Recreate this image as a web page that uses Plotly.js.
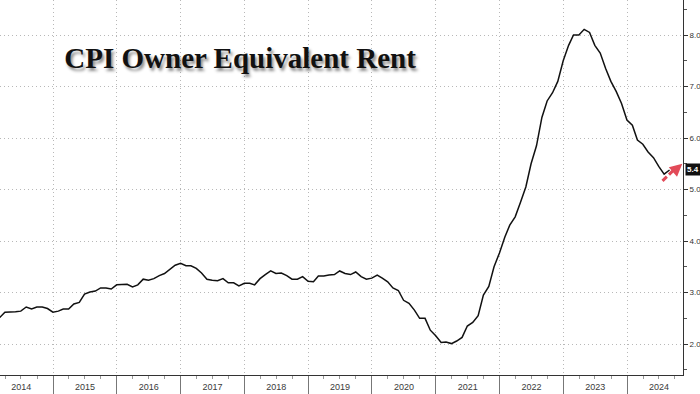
<!DOCTYPE html>
<html>
<head>
<meta charset="utf-8">
<script src="https://cdn.plot.ly/plotly-3.0.1.min.js"></script>
<style>
  html, body { margin: 0; padding: 0; background: #fff; }
  #chart { width: 700px; height: 394px; }
</style>
</head>
<body>
<div id="chart"></div>
<script>
// Month-end observation dates
const dates = [
  '2014-01-31','2014-02-28','2014-03-31','2014-04-30','2014-05-31','2014-06-30','2014-07-31','2014-08-31','2014-09-30','2014-10-31','2014-11-30','2014-12-31',
  '2015-01-31','2015-02-28','2015-03-31','2015-04-30','2015-05-31','2015-06-30','2015-07-31','2015-08-31','2015-09-30','2015-10-31','2015-11-30','2015-12-31',
  '2016-01-31','2016-02-29','2016-03-31','2016-04-30','2016-05-31','2016-06-30','2016-07-31','2016-08-31','2016-09-30','2016-10-31','2016-11-30','2016-12-31',
  '2017-01-31','2017-02-28','2017-03-31','2017-04-30','2017-05-31','2017-06-30','2017-07-31','2017-08-31','2017-09-30','2017-10-31','2017-11-30','2017-12-31',
  '2018-01-31','2018-02-28','2018-03-31','2018-04-30','2018-05-31','2018-06-30','2018-07-31','2018-08-31','2018-09-30','2018-10-31','2018-11-30','2018-12-31',
  '2019-01-31','2019-02-28','2019-03-31','2019-04-30','2019-05-31','2019-06-30','2019-07-31','2019-08-31','2019-09-30','2019-10-31','2019-11-30','2019-12-31',
  '2020-01-31','2020-02-29','2020-03-31','2020-04-30','2020-05-31','2020-06-30','2020-07-31','2020-08-31','2020-09-30','2020-10-31','2020-11-30','2020-12-31',
  '2021-01-31','2021-02-28','2021-03-31','2021-04-30','2021-05-31','2021-06-30','2021-07-31','2021-08-31','2021-09-30','2021-10-31','2021-11-30','2021-12-31',
  '2022-01-31','2022-02-28','2022-03-31','2022-04-30','2022-05-31','2022-06-30','2022-07-31','2022-08-31','2022-09-30','2022-10-31','2022-11-30','2022-12-31',
  '2023-01-31','2023-02-28','2023-03-31','2023-04-30','2023-05-31','2023-06-30','2023-07-31','2023-08-31','2023-09-30','2023-10-31','2023-11-30','2023-12-31',
  '2024-01-31','2024-02-29','2024-03-31','2024-04-30','2024-05-31','2024-06-30','2024-07-31','2024-08-31'
];

// CPI Owners' Equivalent Rent, YoY %
const oerYoY = [
  2.50, 2.51, 2.62, 2.62, 2.63, 2.64, 2.72, 2.68, 2.72, 2.72, 2.69, 2.62,
  2.64, 2.68, 2.68, 2.78, 2.81, 2.97, 3.01, 3.03, 3.09, 3.09, 3.07, 3.15,
  3.16, 3.16, 3.11, 3.15, 3.26, 3.24, 3.27, 3.33, 3.37, 3.46, 3.53, 3.57,
  3.52, 3.52, 3.47, 3.38, 3.26, 3.24, 3.23, 3.27, 3.19, 3.19, 3.13, 3.18,
  3.18, 3.15, 3.27, 3.35, 3.42, 3.37, 3.38, 3.33, 3.26, 3.26, 3.31, 3.22,
  3.21, 3.32, 3.32, 3.34, 3.35, 3.42, 3.37, 3.35, 3.40, 3.31, 3.26, 3.28,
  3.34, 3.28, 3.21, 3.09, 3.04, 2.85, 2.79, 2.66, 2.50, 2.50, 2.27, 2.16,
  2.03, 2.04, 2.01, 2.06, 2.13, 2.35, 2.42, 2.55, 2.95, 3.12, 3.50, 3.77,
  4.08, 4.31, 4.47, 4.75, 5.05, 5.50, 5.85, 6.40, 6.72, 6.88, 7.10, 7.50,
  7.80, 8.00, 8.00, 8.11, 8.05, 7.80, 7.65, 7.35, 7.10, 6.90, 6.67, 6.35,
  6.25, 5.96, 5.88, 5.73, 5.62, 5.45, 5.30, 5.38
];

const chartTitle = 'CPI Owner Equivalent Rent';
const lastLabel = '5.4';
const lastValue = oerYoY[oerYoY.length - 1];

const trace = {
  x: dates,
  y: oerYoY,
  type: 'scatter',
  mode: 'lines',
  line: { color: '#111111', width: 1.5 },
  hoverinfo: 'skip',
  showlegend: false
};

const gridColor = '#b8b8b8';
const gridDash = '1px,3px';
const arrowColor = '#e24a58';

const layout = {
  width: 700,
  height: 394,
  margin: { l: 0, r: 17, t: 0, b: 19, pad: 0 },
  paper_bgcolor: '#ffffff',
  plot_bgcolor: '#ffffff',
  showlegend: false,
  title: {
    text: '<b>' + chartTitle + '</b>',
    font: { family: 'Liberation Serif, serif', size: 29, color: '#111111',
            shadow: '2px 3px 3px rgba(0,0,0,0.45)' },
    xref: 'container', yref: 'container',
    x: 0.343, xanchor: 'center',
    y: 0.853, yanchor: 'middle'
  },
  xaxis: {
    type: 'date',
    range: ['2014-03-03', '2024-11-16'],
    tick0: '2014-01-01',
    dtick: 'M12',
    tickformat: '%Y',
    ticklabelmode: 'period',
    ticks: 'outside',
    ticklen: 19,
    tickcolor: '#777777',
    tickwidth: 1,
    ticklabelstandoff: -16,
    tickfont: { family: 'Liberation Sans Narrow, Liberation Sans, sans-serif', size: 9, color: '#3a3a3a' },
    showgrid: true,
    gridcolor: gridColor,
    griddash: gridDash,
    gridwidth: 1,
    showline: true,
    linecolor: '#333333',
    linewidth: 1,
    zeroline: false,
    fixedrange: true,
    minor: { dtick: 'M3', ticks: 'outside', ticklen: 3, tickcolor: '#999999', showgrid: false }
  },
  yaxis: {
    side: 'right',
    range: [1.40, 8.68],
    tick0: 0,
    dtick: 1,
    tickformat: '.1f',
    ticks: 'outside',
    ticklen: 4,
    tickcolor: '#333333',
    tickfont: { family: 'Liberation Sans Narrow, Liberation Sans, sans-serif', size: 8, color: '#333333' },
    showgrid: true,
    gridcolor: gridColor,
    griddash: gridDash,
    gridwidth: 1,
    showline: true,
    linecolor: '#333333',
    linewidth: 1,
    zeroline: false,
    fixedrange: true,
    minor: { dtick: 0.5, ticks: 'outside', ticklen: 3, tickcolor: '#555555', showgrid: false }
  },
  shapes: [
    {
      type: 'line', xref: 'paper', yref: 'y',
      x0: 0.970, y0: 5.17, x1: 0.988, y1: 5.40,
      line: { color: arrowColor, width: 3, dash: '6px,3px' }
    }
  ],
  annotations: [
    {
      xref: 'paper', yref: 'y', x: 1, y: lastValue,
      xanchor: 'left', yanchor: 'middle', xshift: 2,
      text: '<b>' + lastLabel + '</b>', showarrow: false,
      font: { family: 'Liberation Sans Narrow, Liberation Sans, sans-serif', size: 8, color: '#ffffff' },
      bgcolor: '#111111', borderpad: 1
    },
    {
      xref: 'paper', yref: 'y', x: 0.999, y: 5.5,
      text: '', showarrow: true,
      ax: -8, ay: 7,
      arrowhead: 2, arrowsize: 1, arrowwidth: 2.5, arrowcolor: arrowColor
    }
  ]
};

Plotly.newPlot('chart', [trace], layout, { displayModeBar: false, staticPlot: true });
</script>
</body>
</html>
